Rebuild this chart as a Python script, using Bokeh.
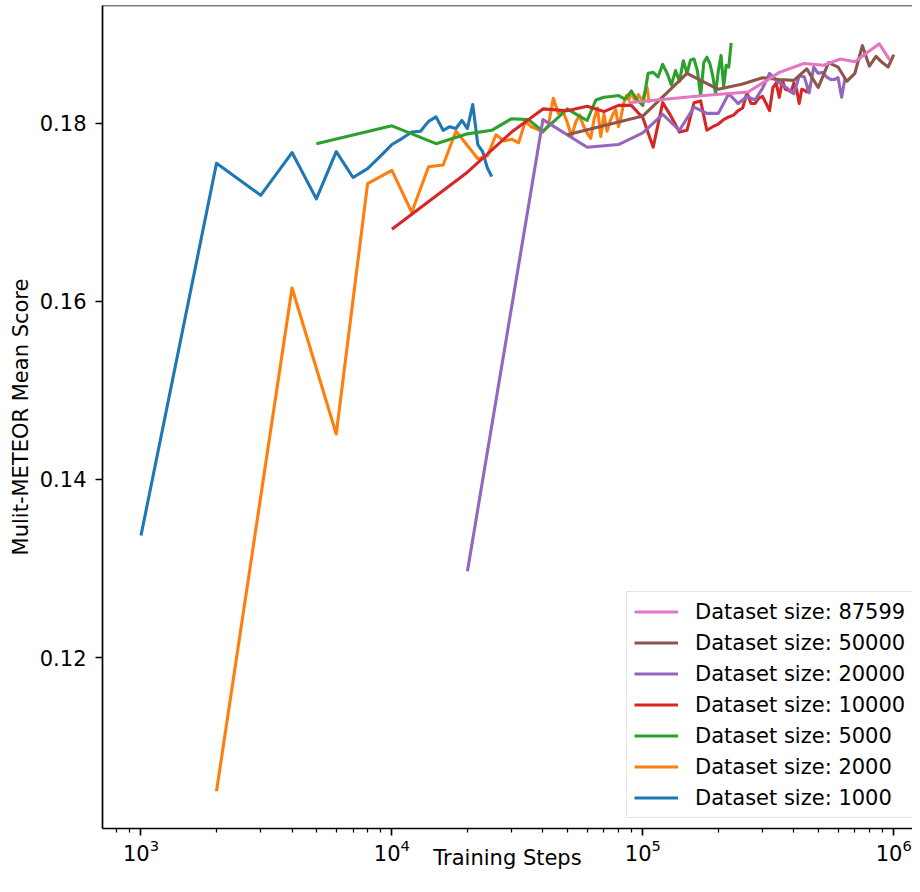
from bokeh.plotting import figure
from bokeh.models import Range1d, FixedTicker, NumeralTickFormatter, Legend, LegendItem, Span
from bokeh.embed import file_html
from bokeh.resources import INLINE

# ---------------- data ----------------
blue_steps = [1000, 2000, 3000, 4000, 5000, 6000, 7000, 8000, 9000, 10000,
              11000, 12000, 13000, 14000, 15000, 16000, 17000, 18000, 19000, 20000,
              21000, 22000, 23000, 24000, 25000]
blue_score = [0.1337, 0.1755, 0.1719, 0.1767, 0.1715, 0.1768, 0.1739, 0.1749, 0.1763, 0.1776,
              0.1783, 0.1790, 0.1791, 0.1802, 0.1807, 0.1792, 0.1796, 0.1794, 0.1803, 0.1794,
              0.1821, 0.1776, 0.1768, 0.1750, 0.1740]

orange_steps = [2000, 4000, 6000, 8000, 10000, 12000, 14000, 16000, 18000, 20000,
                22000, 24000, 26000, 28000, 30000, 32000, 34000, 36000, 38000, 40000,
                42000, 44000, 46000, 48000, 50000, 52000, 54000, 56000, 58000, 60000,
                62000, 64000, 66000, 68000, 70000, 72000, 74000, 76000, 78000, 80000,
                82000, 84000, 86000, 88000, 90000, 92000, 94000, 96000, 98000, 100000,
                102000, 104000, 106000]
orange_score = [0.1050, 0.1615, 0.1451, 0.1732, 0.1747, 0.1700, 0.1751, 0.1753, 0.1791, 0.1775,
                0.1760, 0.1763, 0.1787, 0.1780, 0.1782, 0.1778, 0.1802, 0.1796, 0.1793, 0.1790,
                0.1797, 0.1828, 0.1811, 0.1814, 0.1801, 0.1785, 0.1801, 0.1809, 0.1797, 0.1789,
                0.1783, 0.1805, 0.1817, 0.1785, 0.1810, 0.1791, 0.1802, 0.1810, 0.1815, 0.1796,
                0.1808, 0.1823, 0.1831, 0.1826, 0.1836, 0.1828, 0.1825, 0.1832, 0.1828, 0.1827,
                0.1835, 0.1840, 0.1823]

green_steps = [5000, 10000, 15000, 20000, 25000, 30000, 35000, 40000, 45000, 50000,
               55000, 60000, 65000, 70000, 75000, 80000, 85000, 90000, 95000, 100000,
               105000, 110000, 115000, 120000, 125000, 130000, 135000, 140000, 145000, 150000,
               155000, 160000, 165000, 170000, 175000, 180000, 185000, 190000, 195000, 200000,
               205000, 210000, 215000, 220000, 225000]
green_score = [0.1777, 0.1797, 0.1777, 0.1788, 0.1792, 0.1805, 0.1804, 0.1791, 0.1804, 0.1816,
               0.1809, 0.1803, 0.1826, 0.1829, 0.1830, 0.1831, 0.1827, 0.1836, 0.1826, 0.1820,
               0.1856, 0.1857, 0.1852, 0.1866, 0.1856, 0.1843, 0.1859, 0.1847, 0.1870, 0.1856,
               0.1871, 0.1872, 0.1859, 0.1831, 0.1868, 0.1874, 0.1867, 0.1853, 0.1833, 0.1859,
               0.1876, 0.1841, 0.1865, 0.1863, 0.1890]

red_steps = [10000, 20000, 30000, 40000, 50000, 60000, 70000, 80000, 90000, 100000,
             110000, 120000, 130000, 140000, 150000, 160000, 170000, 180000, 190000, 200000,
             210000, 220000, 230000, 240000, 250000, 260000, 270000, 280000, 290000, 300000,
             310000, 320000, 330000, 340000, 350000, 360000, 370000, 380000, 390000, 400000,
             410000, 420000, 430000, 440000, 450000, 460000]
red_score = [0.1681, 0.1745, 0.1790, 0.1816, 0.1814, 0.1819, 0.1813, 0.1820, 0.1820, 0.1806,
             0.1773, 0.1823, 0.1807, 0.1790, 0.1792, 0.1823, 0.1825, 0.1792, 0.1796, 0.1799,
             0.1804, 0.1807, 0.1809, 0.1814, 0.1817, 0.1834, 0.1822, 0.1822, 0.1828, 0.1830,
             0.1822, 0.1814, 0.1840, 0.1845, 0.1829, 0.1848, 0.1838, 0.1837, 0.1835, 0.1845,
             0.1838, 0.1822, 0.1838, 0.1837, 0.1835, 0.1842]

purple_steps = [20000, 40000, 60000, 80000, 100000, 120000, 140000, 160000, 180000, 200000,
                220000, 240000, 260000, 280000, 300000, 320000, 340000, 360000, 380000, 400000,
                420000, 440000, 460000, 480000, 500000, 520000, 540000, 560000, 580000, 600000,
                620000, 640000]
purple_score = [0.1297, 0.1804, 0.1773, 0.1776, 0.1789, 0.1810, 0.1792, 0.1818, 0.1811, 0.1811,
                0.1833, 0.1822, 0.1830, 0.1826, 0.1839, 0.1856, 0.1848, 0.1843, 0.1838, 0.1833,
                0.1853, 0.1852, 0.1834, 0.1863, 0.1856, 0.1857, 0.1852, 0.1849, 0.1849, 0.1851,
                0.1829, 0.1851]

brown_steps = [50000, 100000, 150000, 200000, 250000, 300000, 350000, 400000, 450000, 500000,
               550000, 600000, 650000, 700000, 750000, 800000, 850000, 900000, 950000, 1000000]
brown_score = [0.1787, 0.1808, 0.1856, 0.1838, 0.1844, 0.1851, 0.1849, 0.1848, 0.1861, 0.1840,
               0.1868, 0.1863, 0.1847, 0.1856, 0.1887, 0.1864, 0.1875, 0.1868, 0.1863, 0.1877]

pink_steps = [87599, 175198, 262797, 350396, 437995, 525594, 613193, 700792, 788391, 875990, 963589]
pink_score = [0.1823, 0.1831, 0.1835, 0.1857, 0.1867, 0.1865, 0.1872, 0.1869, 0.1880, 0.1889, 0.1871]

series = [
    ("Dataset size: 1000", blue_steps, blue_score, "#1f77b4"),
    ("Dataset size: 2000", orange_steps, orange_score, "#ff7f0e"),
    ("Dataset size: 5000", green_steps, green_score, "#2ca02c"),
    ("Dataset size: 10000", red_steps, red_score, "#d62728"),
    ("Dataset size: 20000", purple_steps, purple_score, "#9467bd"),
    ("Dataset size: 50000", brown_steps, brown_score, "#8c564b"),
    ("Dataset size: 87599", pink_steps, pink_score, "#e377c2"),
]

x_major = [1000, 10000, 100000, 1000000]
x_minor = [800, 900, 2000, 3000, 4000, 5000, 6000, 7000, 8000, 9000,
           20000, 30000, 40000, 50000, 60000, 70000, 80000, 90000,
           200000, 300000, 400000, 500000, 600000, 700000, 800000, 900000]
y_major = [0.12, 0.14, 0.16, 0.18]

FONT = "DejaVu Sans"
FS = "21px"

W, H = 912, 876
FR_TOP, FR_BOTTOM, FR_LEFT = 5, 828, 102
Y0, Y1 = 0.10081, 0.19321

p = figure(width=W, height=H, x_axis_type="log",
           x_range=Range1d(702.5, 1.188e6), y_range=Range1d(Y0, Y1),
           output_backend="svg", toolbar_location=None,
           min_border_left=FR_LEFT, min_border_right=0,
           min_border_top=FR_TOP, min_border_bottom=H - FR_BOTTOM)
p.grid.visible = False
p.outline_line_color = None
p.background_fill_color = "white"
p.border_fill_color = "white"

renderers = {}
for name, xs, ys, col in series:
    r = p.line(xs, ys, line_color=col, line_width=3.1, line_join="round")
    renderers[name] = r

for ax in [p.xaxis[0], p.yaxis[0]]:
    ax.axis_line_color = "black"
    ax.axis_line_width = 1.7
    ax.major_tick_line_color = "black"
    ax.major_tick_line_width = 1.7
    ax.major_tick_out = 7
    ax.major_tick_in = 0
    ax.minor_tick_line_color = "black"
    ax.minor_tick_line_width = 1.25
    ax.minor_tick_out = 4
    ax.minor_tick_in = 0
    ax.major_label_text_font = FONT
    ax.major_label_text_font_size = FS
    ax.major_label_text_color = "black"
    ax.axis_label_text_font = FONT
    ax.axis_label_text_font_size = FS
    ax.axis_label_text_font_style = "normal"
    ax.axis_label_text_color = "black"

p.xaxis[0].ticker = FixedTicker(ticks=x_major, minor_ticks=x_minor)
p.xaxis[0].major_label_standoff = 3
# the title sits between the 10^4 and 10^5 labels, so it may overlap their band
p.xaxis[0].axis_label = "Training Steps"
p.xaxis[0].axis_label_standoff = -18

p.yaxis[0].ticker = FixedTicker(ticks=y_major, minor_ticks=[])
p.yaxis[0].formatter = NumeralTickFormatter(format="0.00")
p.yaxis[0].major_label_standoff = 9
p.yaxis[0].axis_label = "Mulit-METEOR Mean Score"
p.yaxis[0].axis_label_standoff = 4

# top spine
p.add_layout(Span(location=Y1, dimension="width", line_color="black", line_width=1.7))

legend_order = ["Dataset size: 87599", "Dataset size: 50000", "Dataset size: 20000",
                "Dataset size: 10000", "Dataset size: 5000", "Dataset size: 2000",
                "Dataset size: 1000"]
legend = Legend(items=[LegendItem(label=n, renderers=[renderers[n]]) for n in legend_order],
                location=(524, 10))
legend.label_text_font = FONT
legend.label_text_font_size = FS
legend.label_text_color = "black"
legend.glyph_width = 44
legend.glyph_height = 25
legend.label_height = 25
legend.spacing = 6
legend.padding = 7
legend.margin = 0
legend.label_standoff = 17
legend.border_line_color = "#cccccc"
legend.border_line_width = 1.5
legend.background_fill_color = "white"
legend.background_fill_alpha = 0.8
p.add_layout(legend)

open("out.html", "w").write(file_html(p, INLINE))
